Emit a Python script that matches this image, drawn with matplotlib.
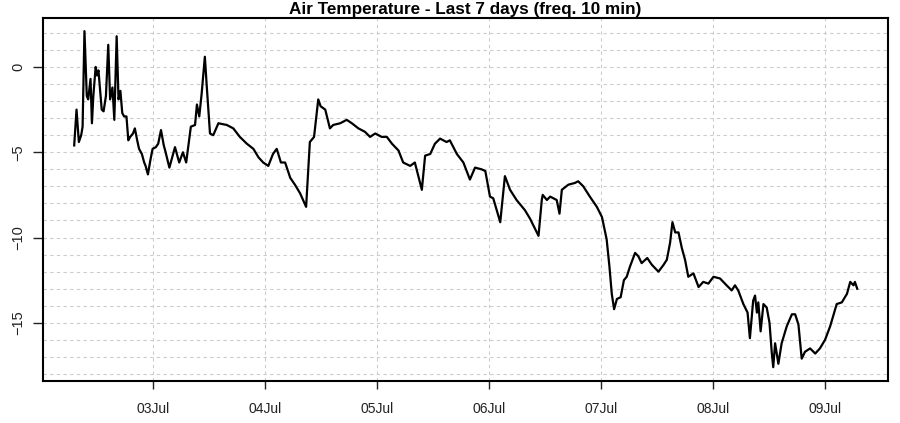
import matplotlib
matplotlib.use("Agg")
import matplotlib.pyplot as plt
import matplotlib.dates as mdates
from matplotlib.ticker import MultipleLocator
import numpy as np
import pandas as pd

# hours since 02 Jul 00:00
hours = [
    7.1, 7.6, 8.1, 8.6, 8.9, 9.3, 9.8, 10.1, 10.6, 10.9, 11.2, 11.7, 12.0, 12.3,
    12.6, 13.0, 13.4, 13.9, 14.4, 14.8, 15.3, 15.7, 16.2, 16.6, 17.0, 17.4, 17.8,
    18.3, 18.7, 19.1, 19.7, 20.1, 20.6, 21.0, 21.6, 22.1, 22.4, 22.9, 23.4, 23.9,
    24.6, 25.1, 25.7, 26.3, 26.6, 27.5, 28.7, 29.6, 30.4, 31.1, 32.1, 33.0, 33.4,
    33.9, 34.4, 35.1, 35.5, 36.2, 36.9, 38.0, 39.8, 41.2, 42.6, 44.1, 45.5, 46.6,
    47.6, 48.7, 49.7, 50.5, 51.4, 52.3, 53.4, 54.4, 55.5, 56.8, 57.6, 58.5, 59.4,
    59.9, 60.9, 61.9, 62.6, 64.1, 65.5, 66.6, 68.0, 69.4, 70.5, 71.6, 73.0, 74.1,
    75.2, 76.6, 77.6, 79.1, 80.1, 81.6, 82.3, 83.4, 84.4, 85.5, 86.9, 87.6, 89.1,
    90.5, 91.9, 93.0, 94.4, 95.2, 96.2, 96.9, 98.4, 99.4, 100.5, 101.9, 103.7,
    104.8, 106.6, 107.3, 107.5, 108.4, 109.1, 110.5, 111.1, 111.6, 113.0, 114.4,
    115.1, 116.2, 117.6, 119.1, 120.2, 121.2, 121.8, 122.3, 122.8, 123.4, 124.2,
    124.9, 125.5, 126.2, 127.3, 128.0, 128.7, 129.9, 130.9, 132.3, 133.4, 134.1,
    134.8, 135.3, 135.9, 136.6, 137.3, 138.0, 138.7, 139.8, 140.9, 141.9, 143.0,
    144.1, 145.5, 146.9, 148.0, 148.7, 149.4, 150.5, 151.4, 151.9, 152.6, 153.0,
    153.4, 153.7, 154.2, 154.8, 155.5, 156.1, 156.6, 156.9, 157.3, 158.0, 158.7,
    159.8, 160.9, 161.6, 162.3, 163.0, 163.7, 164.8, 165.9, 166.9, 168.0, 169.1,
    170.5, 171.6, 172.7, 173.4, 174.1, 174.4, 174.9,
]
temps = [
    -4.6, -2.5, -4.4, -4.0, -3.5, 2.1, -1.7, -1.9, -0.7, -3.3, -1.7, 0.0, -0.5, -0.2,
    -1.2, -2.5, -2.6, -1.7, 1.3, -1.9, -1.2, -3.1, 1.8, -1.9, -1.4, -2.7, -2.9,
    -2.9, -4.3, -4.1, -3.9, -3.6, -4.3, -4.8, -5.1, -5.6, -5.8, -6.3, -5.5, -4.8,
    -4.7, -4.5, -3.7, -4.6, -4.9, -5.9, -4.7, -5.6, -5.0, -5.6, -3.5, -3.4, -2.2,
    -2.9, -1.6, 0.6, -1.1, -3.9, -4.0, -3.3, -3.4, -3.6, -4.1, -4.5, -4.8, -5.3,
    -5.6, -5.8, -5.1, -4.8, -5.6, -5.6, -6.5, -6.9, -7.4, -8.2, -4.4, -4.1, -1.9,
    -2.3, -2.5, -3.6, -3.4, -3.3, -3.1, -3.3, -3.6, -3.8, -4.1, -3.9, -4.1, -4.1,
    -4.5, -4.9, -5.6, -5.8, -5.6, -7.2, -5.2, -5.1, -4.5, -4.2, -4.4, -4.3, -5.1,
    -5.6, -6.6, -5.9, -6.0, -6.1, -7.6, -7.7, -9.1, -6.4, -7.2, -7.8, -8.4,
    -8.9, -9.9, -7.8, -7.5, -7.8, -7.6, -7.8, -8.6, -7.2, -6.9, -6.8,
    -6.7, -7.0, -7.6, -8.2, -8.8, -10.1, -11.7, -13.3, -14.2, -13.6, -13.5,
    -12.5, -12.3, -11.7, -10.9, -11.1, -11.5, -11.2, -11.6, -12.0, -11.6, -11.3,
    -10.3, -9.1, -9.7, -9.7, -10.6, -11.3, -12.3, -12.1, -12.9, -12.6, -12.7,
    -12.3, -12.4, -12.8, -13.1, -12.8, -13.1, -13.9, -14.4, -15.9, -13.7, -13.4,
    -14.4, -13.8, -15.5, -13.9, -14.1, -15.0, -16.8, -17.6, -16.2, -17.4, -16.2,
    -15.2, -14.5, -14.5, -15.1, -17.1, -16.7, -16.5, -16.8, -16.5, -16.0, -15.2,
    -13.9, -13.8, -13.3, -12.6, -12.8, -12.6, -13.0,
]

start = pd.Timestamp("2024-07-02 00:00")
title = "Air Temperature - Last 7 days (freq. 10 min)"


def to_times(h):
    return start + pd.to_timedelta(np.asarray(h), unit="h")


plt.rcParams["font.family"] = ["Liberation Sans", "DejaVu Sans"]

fig = plt.figure(figsize=(9, 4.23), dpi=100)
ax = fig.add_axes([0.0478, 0.0993, 0.9389, 0.8581])

ax.plot(to_times(hours), temps, color="black", linewidth=1.6, zorder=3)

x0, x1 = to_times([0.42, 181.5])
ax.set_xlim(x0, x1)
ax.set_ylim(-18.41, 2.87)

ax.xaxis.set_major_locator(mdates.DayLocator())
ax.xaxis.set_major_formatter(mdates.DateFormatter("%d%b"))
ax.yaxis.set_major_locator(MultipleLocator(5))
ax.yaxis.set_minor_locator(MultipleLocator(1))

grid_style = dict(color="#cccccc", linestyle=(0, (3, 3)), linewidth=0.8)
ax.grid(True, axis="x", which="major", **grid_style)
ax.grid(True, axis="y", which="both", **grid_style)
ax.set_axisbelow(True)

ax.tick_params(axis="x", which="major", length=6, width=1, pad=9,
               labelsize=10, colors="#222222")
ax.tick_params(axis="y", which="major", length=7, width=1, pad=6,
               labelsize=10.5, colors="#222222")
ax.tick_params(axis="y", which="minor", length=0)
for label in ax.get_yticklabels():
    label.set_rotation(90)
    label.set_va("center")

for spine in ax.spines.values():
    spine.set_linewidth(1.5)
    spine.set_color("black")

ax.set_title(title, fontsize=12.3, fontweight="bold", pad=3)

fig.savefig("out.png", dpi=100)
